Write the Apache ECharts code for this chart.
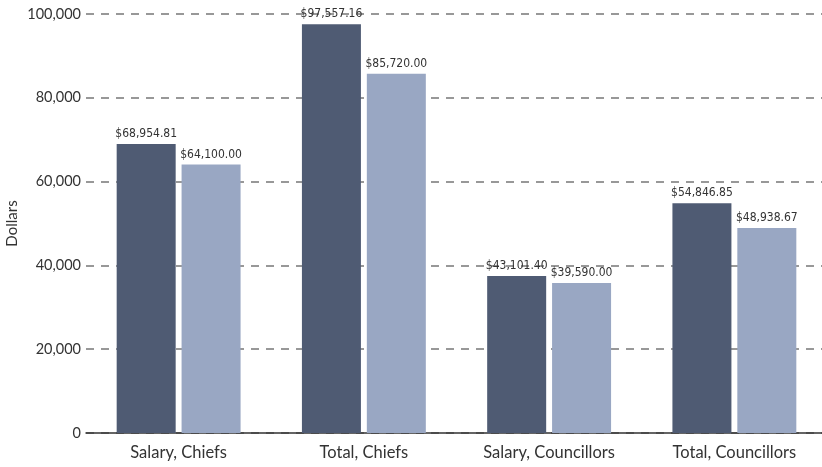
<!DOCTYPE html>
<html>
<head>
<meta charset="utf-8">
<script src="https://cdn.jsdelivr.net/npm/echarts@6/dist/echarts.min.js"></script>
<style>
  html, body { margin: 0; padding: 0; background: #fff; }
  #chart { width: 822px; height: 467px; }
</style>
</head>
<body>
<div id="chart"></div>
<script>
const categories = ['Salary, Chiefs', 'Total, Chiefs', 'Salary, Councillors', 'Total, Councillors'];
// bar heights as drawn
const darkValues = [68955, 97557, 37450, 54847];
const lightValues = [64100, 85720, 35800, 48939];
// printed labels
const darkLabels = ['$68,954.81', '$97,557.16', '$43,101.40', '$54,846.85'];
const lightLabels = ['$64,100.00', '$85,720.00', '$39,590.00', '$48,938.67'];
const yTicks = [0, 20000, 40000, 60000, 80000, 100000];

const chart = echarts.init(document.getElementById('chart'));

const valueLabel = (labels) => ({
  show: true,
  position: 'top',
  distance: 4,
  fontFamily: '"Liberation Sans Narrow", "DejaVu Sans Condensed", sans-serif',
  fontSize: 12,
  color: '#333',
  formatter: (p) => labels[p.dataIndex]
});

const option = {
  animation: false,
  grid: { left: 86, right: -5, top: 14, bottom: 34, outerBoundsMode: 'none', containLabel: false },
  xAxis: {
    type: 'category',
    data: categories,
    axisLine: { lineStyle: { color: '#333', width: 1.5 } },
    axisTick: { show: false },
    axisLabel: { color: '#333', fontFamily: 'Lato', fontSize: 16.5, margin: 11 }
  },
  yAxis: {
    type: 'value',
    min: yTicks[0],
    max: yTicks[yTicks.length - 1],
    interval: 20000,
    name: 'Dollars',
    nameLocation: 'middle',
    nameGap: 66,
    nameMoveOverlap: false,
    nameTextStyle: { color: '#333', fontFamily: 'Lato', fontSize: 15 },
    axisLine: { show: false },
    axisTick: { show: false },
    axisLabel: {
      color: '#333', fontFamily: 'Lato', fontSize: 14.5, margin: 5,
      formatter: (v) => v.toLocaleString('en-US')
    },
    splitLine: { lineStyle: { color: '#777', type: [8, 7], width: 1.5 } }
  },
  series: [
    {
      type: 'bar',
      data: darkValues,
      barWidth: 59,
      barGap: '10%',
      itemStyle: { color: '#4f5b73' },
      label: valueLabel(darkLabels)
    },
    {
      type: 'bar',
      data: lightValues,
      barWidth: 59,
      itemStyle: { color: '#99a7c3' },
      label: valueLabel(lightLabels)
    }
  ]
};

chart.setOption(option);
</script>
</body>
</html>
